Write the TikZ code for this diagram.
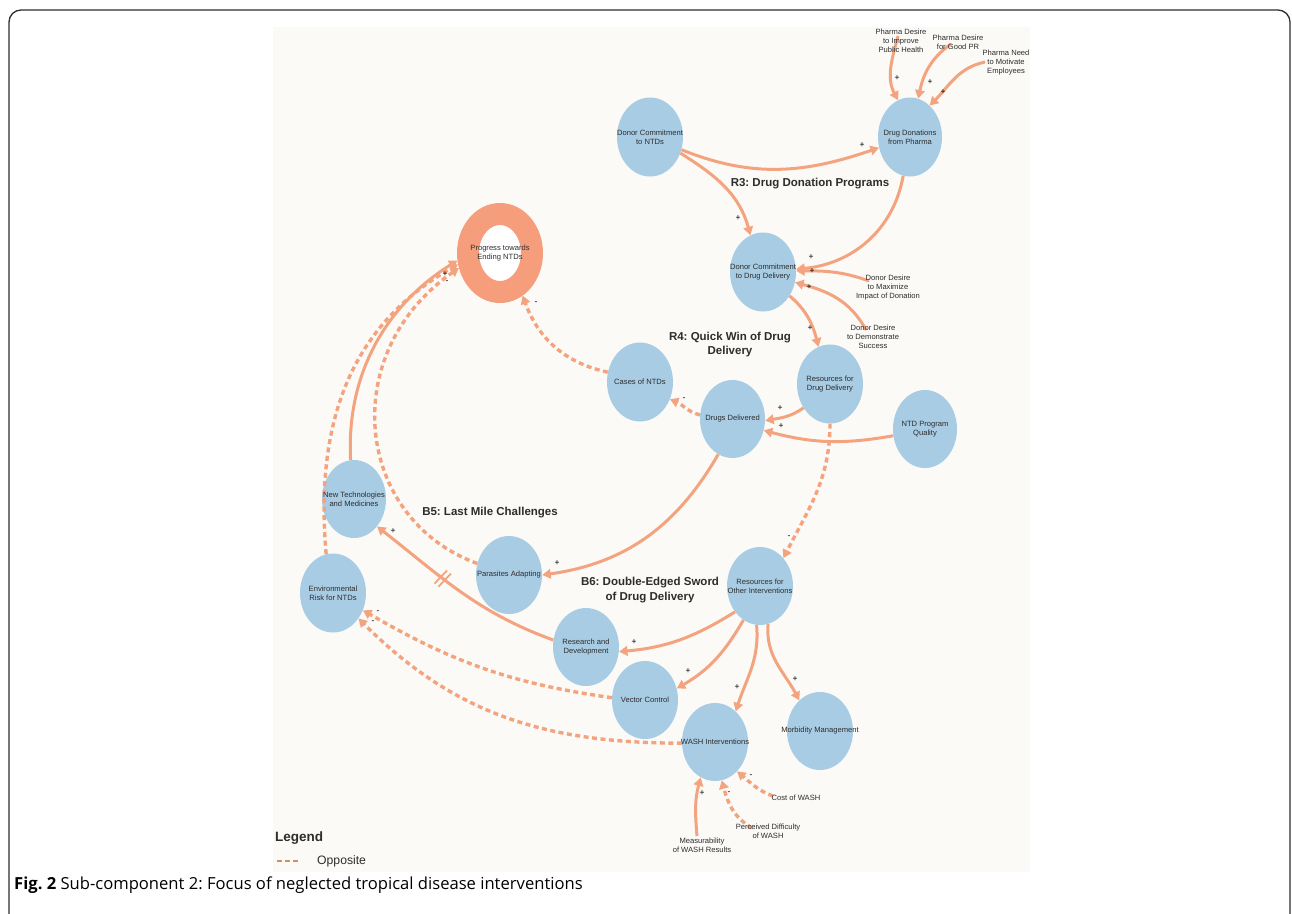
\documentclass[tikz,border=0pt]{standalone}
\usepackage{fontspec}
\setmainfont{Liberation Sans}
\newfontfamily\capfont{Open Sans}
\usetikzlibrary{arrows.meta,shapes.geometric,decorations.markings}
\definecolor{salmon}{RGB}{244,163,127}
\definecolor{ringc}{RGB}{246,158,124}
\definecolor{nodeblue}{RGB}{168,204,228}
\definecolor{panel}{RGB}{251,250,247}
\definecolor{framec}{RGB}{45,45,45}
\definecolor{txt}{RGB}{45,45,45}
\definecolor{legc}{RGB}{214,140,105}
\tikzset{
 cvar/.style={ellipse, fill=nodeblue, inner sep=0pt, minimum width=66pt, minimum height=79pt},
 lbl/.style={align=center, font=\fontsize{7.6}{9}\selectfont, text=txt, inner sep=0pt},
 sgn/.style={font=\fontsize{8.5}{8.5}\selectfont, inner sep=0pt, text=black},
 loopt/.style={align=center, font=\bfseries\fontsize{11.5}{14.5}\selectfont, text=txt, inner sep=0pt},
 plink/.style={draw=salmon, line width=3pt, -{Triangle[length=8.5pt,width=9.5pt]}},
 nlink/.style={plink, line width=3.4pt, dash pattern=on 5pt off 3.5pt},
 delaymark/.style={postaction={decorate, decoration={markings, mark=at position 0.6 with {\draw[-, solid, salmon, line width=1.8pt] (-3pt,-9pt)--(-1pt,9pt) (2pt,-9pt)--(4pt,9pt);}}}},
}
\begin{document}
\frenchspacing
\begin{tikzpicture}[x=1pt,y=1pt]
\useasboundingbox (0,0) rectangle (1292,-913);
\draw[rounded corners=12pt, line width=1.3pt, framec] (9,-960) rectangle (1290,-10);
\fill[panel] (273,-27) rectangle (1030,-872);

% variables
\node[cvar] (dntd) at (650,-137) {};
\node[cvar, minimum width=64pt] (ddp) at (910,-137) {};
\node[cvar] (dcdd) at (763,-272) {};
\node[cvar] (rdd) at (830,-384) {};
\node[cvar, minimum width=65pt, minimum height=78pt] (dd) at (732.5,-419) {};
\node[cvar, minimum width=64pt, minimum height=78pt] (npq) at (925,-429) {};
\node[cvar] (cases) at (640,-382) {};
\node[ellipse, draw=ringc, fill=white, line width=22pt, inner sep=0pt, minimum width=64pt, minimum height=78pt] (prog) at (500,-253) {};
\node[cvar, minimum width=64pt, minimum height=78pt] (newt) at (354,-499) {};
\node[cvar] (env) at (333,-593) {};
\node[cvar, minimum height=78pt] (pa) at (509,-575) {};
\node[cvar, minimum height=78pt] (roi) at (760,-586) {};
\node[cvar, minimum height=78pt] (rd) at (586,-647) {};
\node[cvar, minimum height=78pt] (vc) at (645,-700) {};
\node[cvar, minimum height=78pt] (wash) at (715,-742) {};
\node[cvar, minimum height=78pt] (mm) at (820,-731) {};

% free ends
\coordinate (pdiS) at (898,-36);
\coordinate (pgpS) at (951,-44);
\coordinate (pnmS) at (985,-62);
\coordinate (ddmS) at (869,-281);
\coordinate (ddsS) at (866,-330);
\coordinate (costS) at (773,-796);
\coordinate (percS) at (752,-828);
\coordinate (measS) at (697,-836);

% links
\draw[plink] (dntd.-22) to[out=-22,in=199] (ddp.199);
\draw[plink] (dntd.-28) to[out=-32,in=105] (dcdd.109);
\draw[plink] (ddp.-100) to[out=-100,in=5] (dcdd.5);
\draw[plink] (ddmS) to[out=160,in=0] (dcdd.2);
\draw[plink] (ddsS) to[out=118,in=-15] (dcdd.-18);
\draw[plink] (dcdd.-42) to[out=-40,in=105] (rdd.107);
\draw[plink] (rdd.222) to[out=215,in=10] (dd.-3);
\draw[plink] (npq.192) to[out=190,in=-15] (dd.-20);
\draw[nlink] (dd.173) to[out=165,in=-22] (cases.-30);
\draw[nlink] (cases.163) to[out=168,in=-70] (prog.-62);
\draw[nlink] (rdd.-90) to[out=-90,in=63] (roi.50);
\draw[plink] (dd.248) to[out=240,in=8] (pa.0);
\draw[nlink] (pa.160) to[out=160,in=215,out distance=130pt,in distance=150pt] (prog.200);
\draw[plink] (newt.95) to[out=93,in=212,out distance=90pt,in distance=80pt] (prog.190);
\draw[nlink] (env.100) to[out=95,in=210,out distance=150pt,in distance=110pt] (prog.195);
\draw[plink, delaymark] (rd.168) to[out=160,in=-38] (newt.-50);
\draw[plink] (roi.226) to[out=212,in=5] (rd.-8);
\draw[plink] (roi.244) to[out=240,in=30] (vc.20);
\draw[plink] (roi.265) to[out=-85,in=72] (wash.56);
\draw[plink] (roi.-78) to[out=-95,in=118] (mm.124);
\draw[nlink] (vc.176) to[out=172,in=-30] (env.-30);
\draw[nlink] (wash.182) to[out=180,in=-45] (env.-45);
\draw[plink] (measS) to[out=95,in=255] (wash.248);
\draw[nlink] (percS) to[out=150,in=-75] (wash.-80);
\draw[nlink] (costS) to[out=160,in=-40] (wash.-53);
\draw[plink] (pdiS) to[out=255,in=118] (ddp.108);
\draw[plink] (pgpS) to[out=215,in=78] (ddp.78);
\draw[plink] (pnmS) to[out=192,in=45] (ddp.58);

% variable texts
\node[lbl] (dntdT) at (dntd) {Donor Commitment\\to NTDs};
\node[lbl] (ddpT) at (ddp) {Drug Donations\\from Pharma};
\node[lbl] (dcddT) at (dcdd) {Donor Commitment\\to Drug Delivery};
\node[lbl] (rddT) at (rdd) {Resources for\\Drug Delivery};
\node[lbl] (ddT) at (dd) {Drugs Delivered};
\node[lbl] (npqT) at (npq) {NTD Program\\Quality};
\node[lbl] (casesT) at (cases) {Cases of NTDs};
\node[lbl] (progT) at (prog) {Progress towards\\Ending NTDs};
\node[lbl] (newtT) at (newt) {New Technologies\\and Medicines};
\node[lbl] (envT) at (env) {Environmental\\Risk for NTDs};
\node[lbl] (paT) at (pa) {Parasites Adapting};
\node[lbl] (roiT) at (roi) {Resources for\\Other Interventions};
\node[lbl] (rdT) at (rd) {Research and\\Development};
\node[lbl] (vcT) at (vc) {Vector Control};
\node[lbl] (washT) at (wash) {WASH Interventions};
\node[lbl] (mmT) at (mm) {Morbidity Management};

% exogenous texts
\node[lbl] (pdi) at (901,-41) {Pharma Desire\\to Improve\\Public Health};
\node[lbl] (pgp) at (958,-42.5) {Pharma Desire\\for Good PR};
\node[lbl] (pnm) at (1006,-63) {Pharma Need\\to Motivate\\Employees};
\node[lbl] (ddm) at (888,-288) {Donor Desire\\to Maximize\\Impact of Donation};
\node[lbl] (dds) at (873,-337) {Donor Desire\\to Demonstrate\\Success};
\node[lbl] (cost) at (796,-798) {Cost of WASH};
\node[lbl] (perc) at (768,-831.5) {Perceived Difficulty\\of WASH};
\node[lbl] (meas) at (702,-845.5) {Measurability\\of WASH Results};

% loop titles
\node[loopt] (r3) at (810,-184) {R3: Drug Donation Programs};
\node[loopt] (r4) at (730,-344.5) {R4: Quick Win of Drug\\Delivery};
\node[loopt] (b5) at (490,-513) {B5: Last Mile Challenges};
\node[loopt] (b6) at (650,-590) {B6: Double-Edged Sword\\of Drug Delivery};

% polarities
\node[sgn] (s1) at (862,-145) {+};
\node[sgn] (s2) at (738,-218) {+};
\node[sgn] (s3) at (811,-257) {+};
\node[sgn] (s4) at (812,-271) {+};
\node[sgn] (s5) at (809,-287) {+};
\node[sgn] (s6) at (810,-328) {+};
\node[sgn] (s7) at (780,-408) {+};
\node[sgn] (s8) at (781,-426) {+};
\node[sgn] (s9) at (684,-399) {-};
\node[sgn] (s10) at (536,-303) {-};
\node[sgn] (s11) at (789,-537) {-};
\node[sgn] (s12) at (557,-563) {+};
\node[sgn] (s13) at (447,-282) {-};
\node[sgn] (s14) at (445,-274) {+};
\node[sgn] (s16) at (393,-531) {+};
\node[sgn] (s17) at (634,-642) {+};
\node[sgn] (s18) at (688,-671) {+};
\node[sgn] (s19) at (737,-687) {+};
\node[sgn] (s20) at (795,-679) {+};
\node[sgn] (s21) at (378,-612) {-};
\node[sgn] (s22) at (373,-622) {-};
\node[sgn] (s23) at (702,-793) {+};
\node[sgn] (s24) at (729,-793) {-};
\node[sgn] (s25) at (751,-776) {-};
\node[sgn] (s26) at (897,-78) {+};
\node[sgn] (s27) at (930,-82) {+};
\node[sgn] (s28) at (943,-92) {+};

% legend
\node[anchor=west, inner sep=0pt, text=txt, font=\bfseries\fontsize{13.5}{13.5}\selectfont] (legT) at (275,-838) {Legend};
\coordinate (lgA) at (277,-861);
\coordinate (lgB) at (301,-861);
\draw[legc, line width=1.6pt, dash pattern=on 4.5pt off 3.5pt] (lgA) -- (lgB);
\node[anchor=west, inner sep=0pt, text=txt, font=\fontsize{12.2}{12.2}\selectfont] (legO) at (317,-861) {Opposite};

% caption
\node[anchor=base west, inner sep=0pt, text=black, font=\capfont\fontsize{16.6}{16.6}\selectfont] (cap) at (14,-889) {\textbf{Fig. 2} Sub-component 2: Focus of neglected tropical disease interventions};
\end{tikzpicture}
\end{document}
